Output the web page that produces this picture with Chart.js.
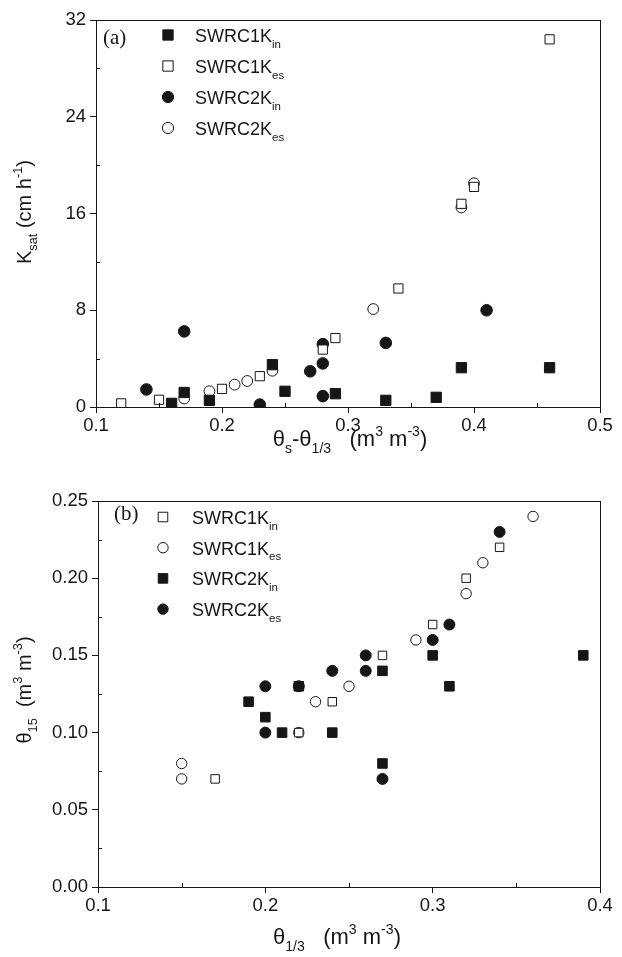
<!DOCTYPE html>
<html>
<head>
<meta charset="utf-8">
<script src="https://cdn.jsdelivr.net/npm/chart.js@4"></script>
<style>
  body { margin: 0; background: #fff; }
  canvas { position: absolute; left: 0; }
</style>
</head>
<body>
<canvas id="chartA" width="622" height="470" style="top:0"></canvas>
<canvas id="chartB" width="622" height="479" style="top:478px"></canvas>
<script>
// ---- panel (a): Ksat vs theta_s - theta_1/3 ----
const a1InX = [0.16, 0.17, 0.19, 0.24, 0.25, 0.29, 0.33, 0.37, 0.39, 0.46];
const a1InY = [0.3, 1.2, 0.55, 3.5, 1.3, 1.1, 0.55, 0.8, 3.25, 3.25];
const a1EsX = [0.12, 0.15, 0.20, 0.23, 0.28, 0.29, 0.34, 0.39, 0.40, 0.46];
const a1EsY = [0.3, 0.6, 1.5, 2.55, 4.75, 5.7, 9.8, 16.8, 18.2, 30.4];
const a2InX = [0.14, 0.17, 0.23, 0.27, 0.28, 0.28, 0.28, 0.33, 0.41];
const a2InY = [1.45, 6.25, 0.2, 2.95, 3.6, 5.2, 0.9, 5.3, 8.0];
const a2EsX = [0.17, 0.19, 0.21, 0.22, 0.24, 0.32, 0.39, 0.40];
const a2EsY = [0.7, 1.3, 1.85, 2.15, 3.0, 8.1, 16.5, 18.5];
const aXTicks = [0.1, 0.5, 0.1];   // min, max, step
const aYTicks = [0, 32, 8];

// ---- panel (b): theta_15 vs theta_1/3 ----
const b1InX = [0.17, 0.22, 0.24, 0.27, 0.30, 0.32, 0.34];
const b1InY = [0.07, 0.10, 0.12, 0.15, 0.17, 0.20, 0.22];
const b1EsX = [0.15, 0.15, 0.22, 0.23, 0.25, 0.29, 0.32, 0.33, 0.36];
const b1EsY = [0.08, 0.07, 0.10, 0.12, 0.13, 0.16, 0.19, 0.21, 0.24];
const b2InX = [0.19, 0.20, 0.21, 0.22, 0.24, 0.27, 0.27, 0.30, 0.31, 0.39];
const b2InY = [0.12, 0.11, 0.10, 0.13, 0.10, 0.14, 0.08, 0.15, 0.13, 0.15];
const b2EsX = [0.20, 0.20, 0.22, 0.24, 0.26, 0.26, 0.27, 0.30, 0.31, 0.34];
const b2EsY = [0.13, 0.10, 0.13, 0.14, 0.15, 0.14, 0.07, 0.16, 0.17, 0.23];
const bXTicks = [0.1, 0.4, 0.1];
const bYTicks = [0, 0.25, 0.05];

const INK = '#161616';
const SANS = "'Liberation Sans', Arial, sans-serif";
const SERIF = "'Liberation Serif', 'Times New Roman', serif";

function pts(xs, ys) {
  return xs.map((x, i) => ({ x: x, y: ys[i] }));
}

// marker styles
const fillSq = { pointStyle: 'rect', backgroundColor: INK, borderColor: INK };
const openSq = { pointStyle: 'rect', backgroundColor: '#fff', borderColor: INK };
const fillCi = { pointStyle: 'circle', backgroundColor: INK, borderColor: INK };
const openCi = { pointStyle: 'circle', backgroundColor: '#fff', borderColor: INK };

function ds(label, xs, ys, style, r) {
  return Object.assign({
    label: label,
    data: pts(xs, ys),
    pointRadius: style.pointStyle === 'rect' ? r * 1.3 : r,
    borderWidth: 1,
    showLine: false
  }, style);
}

// draws text with sub / superscript pieces
function richText(ctx, parts, x, y, size, align) {
  let w = 0;
  parts.forEach(p => {
    ctx.font = (p.sub || p.sup ? size * 0.64 : size) + 'px ' + SANS;
    w += ctx.measureText(p.t).width;
  });
  let cx = align === 'center' ? x - w / 2 : x;
  ctx.textAlign = 'left';
  ctx.textBaseline = 'alphabetic';
  parts.forEach(p => {
    ctx.font = (p.sub || p.sup ? size * 0.64 : size) + 'px ' + SANS;
    const dy = p.sub ? size * 0.32 : (p.sup ? -size * 0.45 : 0);
    ctx.fillText(p.t, cx, y + dy);
    cx += ctx.measureText(p.t).width;
  });
}

function marker(ctx, style, x, y, r) {
  ctx.lineWidth = 1;
  ctx.fillStyle = style.backgroundColor;
  ctx.strokeStyle = style.borderColor;
  ctx.beginPath();
  if (style.pointStyle === 'rect') {
    const s = r * 1.3 / Math.SQRT2;
    ctx.rect(x - s, y - s, 2 * s, 2 * s);
  } else {
    ctx.arc(x, y, r, 0, Math.PI * 2);
  }
  ctx.fill();
  ctx.stroke();
}

const decorPlugin = {
  id: 'decor',
  afterDraw(chart, args, o) {
    const ctx = chart.ctx;
    const ca = chart.chartArea;
    const xs = chart.scales.x, ys = chart.scales.y;
    ctx.save();
    ctx.strokeStyle = INK;
    ctx.fillStyle = INK;
    ctx.lineWidth = 1;
    // frame
    ctx.strokeRect(Math.round(ca.left) + 0.5, Math.round(ca.top) + 0.5,
      Math.round(ca.right - ca.left), Math.round(ca.bottom - ca.top));
    // minor ticks, inside
    ctx.beginPath();
    for (let v = o.xMinor[0]; v < o.xMinor[1]; v += o.xMinor[2]) {
      const px = Math.round(xs.getPixelForValue(v)) + 0.5;
      ctx.moveTo(px, ca.bottom); ctx.lineTo(px, ca.bottom - 4);
    }
    for (let v = o.yMinor[0]; v < o.yMinor[1]; v += o.yMinor[2]) {
      const py = Math.round(ys.getPixelForValue(v)) + 0.5;
      ctx.moveTo(ca.left, py); ctx.lineTo(ca.left + 4, py);
    }
    ctx.stroke();
    // axis titles
    ctx.fillStyle = INK;
    richText(ctx, o.xTitle, (ca.left + ca.right) / 2 + o.xTitleShift, o.xTitleY, o.xTitleSize, 'center');
    ctx.save();
    ctx.translate(o.yTitleX, o.yTitleMid);
    ctx.rotate(-Math.PI / 2);
    richText(ctx, o.yTitle, 0, 0, 20, 'center');
    ctx.restore();
    // panel label
    ctx.font = '21px ' + SERIF;
    ctx.textAlign = 'left';
    ctx.textBaseline = 'middle';
    ctx.fillText(o.panel, o.panelX, o.panelY);
    // legend
    chart.data.datasets.forEach((d, i) => {
      const y = o.legY + i * o.legGap;
      marker(ctx, d, o.legX, y, o.legR);
      ctx.fillStyle = INK;
      richText(ctx, [{ t: o.legNames[i][0] }, { t: o.legNames[i][1], sub: true }],
        o.legTextX, y + 7, 18, 'left');
    });
    ctx.restore();
  }
};

function axis(t, size, pad, digits) {
  return {
    type: 'linear',
    min: t[0],
    max: t[1],
    afterFit: s => { if (size.w) s.width = size.w; if (size.h) s.height = size.h; },
    ticks: {
      stepSize: t[2],
      color: INK,
      font: { family: SANS, size: 18.5 },
      padding: pad,
      callback: v => Number(v).toFixed(digits)
    },
    grid: { drawOnChartArea: false, drawTicks: true, tickLength: 6, color: INK },
    border: { color: INK, width: 1 }
  };
}

function makeChart(id, datasets, xT, yT, xDig, yDig, geom, decor) {
  return new Chart(document.getElementById(id), {
    type: 'scatter',
    data: { datasets: datasets },
    options: {
      responsive: false,
      animation: false,
      layout: { padding: { top: geom.top, right: geom.right, left: 0, bottom: 0 } },
      scales: {
        x: axis(xT, { h: geom.xh }, 2, xDig),
        y: axis(yT, { w: geom.yw }, 4, yDig)
      },
      plugins: { legend: { display: false }, tooltip: { enabled: false }, decor: decor }
    },
    plugins: [decorPlugin]
  });
}

makeChart('chartA', [
  ds('SWRC1Kin', a1InX, a1InY, fillSq, 5.6),
  ds('SWRC1Kes', a1EsX, a1EsY, openSq, 5),
  ds('SWRC2Kin', a2InX, a2InY, fillCi, 5.8),
  ds('SWRC2Kes', a2EsX, a2EsY, openCi, 5.4)
], aXTicks, aYTicks, 1, 0, { top: 20, right: 22, xh: 63, yw: 96 }, {
  xMinor: [0.15, 0.5, 0.1], yMinor: [4, 32, 8],
  xTitle: [{ t: '\u03b8' }, { t: 's', sub: true }, { t: '-\u03b8' }, { t: '1/3', sub: true },
           { t: '   (m' }, { t: '3', sup: true }, { t: ' m' }, { t: '-3', sup: true }, { t: ')' }],
  xTitleSize: 22, xTitleShift: 2, xTitleY: 446,
  yTitle: [{ t: 'K' }, { t: 'sat', sub: true }, { t: ' (cm h' }, { t: '-1', sup: true }, { t: ')' }],
  yTitleX: 31, yTitleMid: 212,
  panel: '(a)', panelX: 103, panelY: 38,
  legX: 168, legY: 35, legGap: 31, legR: 5.6, legTextX: 195,
  legNames: [['SWRC1K', 'in'], ['SWRC1K', 'es'], ['SWRC2K', 'in'], ['SWRC2K', 'es']]
});

makeChart('chartB', [
  ds('SWRC1Kin', b1InX, b1InY, openSq, 4.6),
  ds('SWRC1Kes', b1EsX, b1EsY, openCi, 5.2),
  ds('SWRC2Kin', b2InX, b2InY, fillSq, 5.2),
  ds('SWRC2Kes', b2EsX, b2EsY, fillCi, 5.5)
], bXTicks, bYTicks, 1, 2, { top: 23, right: 22, xh: 70, yw: 98 }, {
  xMinor: [0.15, 0.4, 0.1], yMinor: [0.025, 0.25, 0.05],
  xTitle: [{ t: '\u03b8' }, { t: '1/3', sub: true },
           { t: '   (m' }, { t: '3', sup: true }, { t: ' m' }, { t: '-3', sup: true }, { t: ')' }],
  xTitleSize: 22, xTitleShift: -12, xTitleY: 466,
  yTitle: [{ t: '\u03b8' }, { t: '15', sub: true }, { t: '  (m' }, { t: '3', sup: true },
           { t: ' m' }, { t: '-3', sup: true }, { t: ')' }],
  yTitleX: 31, yTitleMid: 212,
  panel: '(b)', panelX: 114, panelY: 36,
  legX: 163, legY: 39, legGap: 30.7, legR: 5.2, legTextX: 192,
  legNames: [['SWRC1K', 'in'], ['SWRC1K', 'es'], ['SWRC2K', 'in'], ['SWRC2K', 'es']]
});
</script>
</body>
</html>
